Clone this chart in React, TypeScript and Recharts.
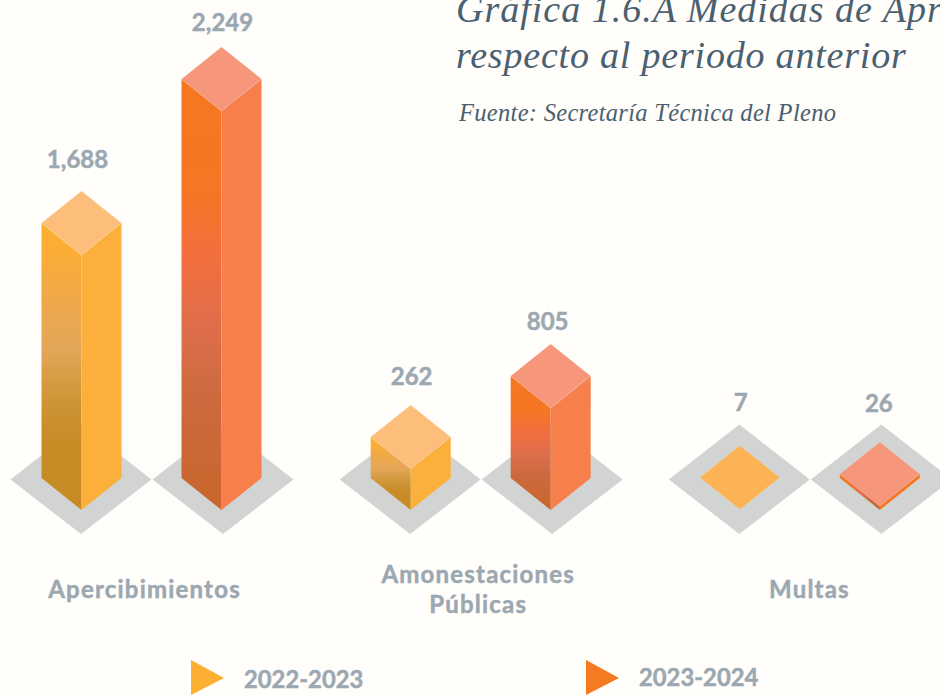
import { BarChart, Bar, XAxis, YAxis, LabelList } from "recharts";

const CATEGORIES = ["Apercibimientos", "Amonestaciones Públicas", "Multas"];
const VALUES_2022 = [1688, 262, 7];
const VALUES_2023 = [2249, 805, 26];
const SERIES_NAMES = ["2022-2023", "2023-2024"];

// The source graphic does not draw its bars in proportion to the numbers,
// so the y scale is piecewise: value -> drawn height
const SCALE_VALUES = [0, 7, 26, 262, 805, 1688, 2249, 2900];
const SCALE_HEIGHTS = [0, 0.5, 4, 41, 102, 255, 399, 478];

const LABEL_COLOR = "#9BA8B1";
const LABEL_FONT = "Lato, sans-serif";
const BACKGROUND = "#FFFEFA";

const YELLOW = {
  id: "yellowFace",
  top: "#FDBE7B",
  right: "#FBB03B",
  flat: "#FCB356",
  shadowDx: -0.5,
  stops: [
    [0, "#FDB02F"],
    [0.1, "#FBAD36"],
    [0.27, "#EFA84B"],
    [0.44, "#E3A658"],
    [0.62, "#CF9535"],
    [0.76, "#C88C27"],
    [1, "#C78B26"],
  ],
};

const ORANGE = {
  id: "orangeFace",
  top: "#F6967B",
  right: "#F67F4B",
  flat: "#F6967B",
  shadowDx: 1.5,
  stops: [
    [0, "#F57820"],
    [0.26, "#F57624"],
    [0.42, "#F26E3F"],
    [0.58, "#DE6E4B"],
    [0.74, "#CC6A3E"],
    [1, "#C9652B"],
  ],
};

const HALF_W = 40;
const HALF_H = 32;

function piecewiseHeight(v: number) {
  for (let i = 1; i < SCALE_VALUES.length; i++) {
    if (v <= SCALE_VALUES[i]) {
      const t = (v - SCALE_VALUES[i - 1]) / (SCALE_VALUES[i] - SCALE_VALUES[i - 1]);
      return SCALE_HEIGHTS[i - 1] + t * (SCALE_HEIGHTS[i] - SCALE_HEIGHTS[i - 1]);
    }
  }
  return SCALE_HEIGHTS[SCALE_HEIGHTS.length - 1];
}

function makeScale(dom: number[] = [0, 2900], rng: number[] = [478, 0]) {
  const scale: any = (v: number) => {
    const frac = piecewiseHeight(v) / 478;
    return rng[0] + frac * (rng[1] - rng[0]);
  };
  scale.domain = (d?: number[]) => {
    if (!d) return dom;
    dom = d;
    return scale;
  };
  scale.range = (r?: number[]) => {
    if (!r) return rng;
    rng = r;
    return scale;
  };
  scale.copy = () => makeScale(dom, rng);
  scale.ticks = () => SCALE_VALUES;
  scale.tickFormat = () => (v: number) => String(v);
  scale.bandwidth = () => 0;
  return scale;
}

const yScale = makeScale();

const chartData = CATEGORIES.map((category, i) => ({
  category,
  v2022: VALUES_2022[i],
  v2023: VALUES_2023[i],
}));

function pts(list: number[][]) {
  return list.map((p) => p.join(",")).join(" ");
}

function IsoBar(props: any, palette: typeof YELLOW) {
  const { x, y, width, height } = props;
  const cx = x + width / 2;
  const sx = cx + palette.shadowDx;
  const topY = y;
  const baseY = y + height;
  const edge = { stroke: "#FFFFFF", strokeOpacity: 0.25, strokeWidth: 0.6 };
  return (
    <g>
      <polygon
        points={pts([
          [sx, baseY - 53.5],
          [sx + 70.5, baseY + 1.5],
          [sx, baseY + 56],
          [sx - 70.5, baseY + 1.5],
        ])}
        fill="#D2D4D3"
      />
      {height > 1 && (
        <>
          <polygon
            points={pts([
              [cx - HALF_W, topY],
              [cx, topY + HALF_H],
              [cx, baseY + HALF_H],
              [cx - HALF_W, baseY],
            ])}
            fill={`url(#${palette.id})`}
          />
          <polygon
            points={pts([
              [cx, topY + HALF_H],
              [cx + HALF_W, topY],
              [cx + HALF_W, baseY],
              [cx, baseY + HALF_H],
            ])}
            fill={height < 10 ? palette.stops[0][1] : palette.right}
          />
        </>
      )}
      <polygon
        points={pts([
          [cx, topY - HALF_H],
          [cx + HALF_W, topY],
          [cx, topY + HALF_H],
          [cx - HALF_W, topY],
        ])}
        fill={height > 1 ? palette.top : palette.flat}
        {...edge}
      />
    </g>
  );
}

// how far each value label sits above / beside the top of its bar
const LABEL_LIFT = [
  [65, 62, 76],
  [58, 56, 72],
];
const LABEL_DX = [
  [-4, 1, 1],
  [1, -3, -1],
];

function valueLabel(seriesIdx: number) {
  return (props: any) => {
    const { x, y, width, value, index } = props;
    return (
      <text
        x={x + width / 2 + LABEL_DX[seriesIdx][index]}
        y={y - LABEL_LIFT[seriesIdx][index]}
        textAnchor="middle"
        dominantBaseline="central"
        fontFamily={LABEL_FONT}
        fontWeight={700}
        fontSize={24}
        fill={LABEL_COLOR}
        stroke={LABEL_COLOR}
        strokeWidth={0.5}
      >
        {Number(value).toLocaleString("en-US")}
      </text>
    );
  };
}

const TICK_DX = [-6.5, -2, 0];

function CategoryTick(props: any) {
  const { x, payload, index } = props;
  const lines = String(payload.value).split(" ");
  const startY = lines.length > 1 ? 573 : 588;
  return (
    <text
      textAnchor="middle"
      fontFamily={LABEL_FONT}
      fontWeight={700}
      fontSize={24}
      letterSpacing={1.2}
      fill={LABEL_COLOR}
      stroke={LABEL_COLOR}
      strokeWidth={0.5}
    >
      {lines.map((line, i) => (
        <tspan key={line} x={x + TICK_DX[index]} y={startY + i * 30} dominantBaseline="central">
          {line}
        </tspan>
      ))}
    </text>
  );
}

function LegendItem({ name, color, left, textLeft, textY }: any) {
  return (
    <>
      <svg
        width={36}
        height={36}
        style={{ position: "absolute", left, top: 659 }}
      >
        <polygon points="1,1 34,19 1,36" fill={color} />
      </svg>
      <div
        style={{
          position: "absolute",
          left: textLeft,
          top: textY,
          fontFamily: LABEL_FONT,
          fontWeight: 700,
          fontSize: 23.8,
          lineHeight: "30px",
          WebkitTextStroke: `0.5px ${LABEL_COLOR}`,
          color: LABEL_COLOR,
        }}
      >
        {name}
      </div>
    </>
  );
}

const serif = "'Liberation Serif', serif";

export default function App() {
  return (
    <div
      style={{
        position: "absolute",
        left: 0,
        top: 0,
        width: 940,
        height: 695,
        overflow: "hidden",
        background: BACKGROUND,
      }}
    >
      <div style={{ position: "absolute", left: -14, top: 0 }}>
        <BarChart
          width={988}
          height={695}
          data={chartData}
          barSize={80}
          barGap={60}
          margin={{ top: 0, right: 0, bottom: 0, left: 0.5 }}
        >
          <defs>
            {[YELLOW, ORANGE].map((p) => (
              <linearGradient key={p.id} id={p.id} x1="0" y1="0" x2="0" y2="1">
                {p.stops.map(([o, c]) => (
                  <stop key={o} offset={o as number} stopColor={c as string} />
                ))}
              </linearGradient>
            ))}
          </defs>
          <XAxis
            dataKey="category"
            height={217}
            axisLine={false}
            tickLine={false}
            interval={0}
            tick={<CategoryTick />}
          />
          <YAxis hide type="number" domain={[0, 2900]} scale={yScale} />
          <Bar
            dataKey="v2022"
            name={SERIES_NAMES[0]}
            isAnimationActive={false}
            shape={(p: any) => IsoBar(p, YELLOW)}
          >
            <LabelList dataKey="v2022" content={valueLabel(0)} />
          </Bar>
          <Bar
            dataKey="v2023"
            name={SERIES_NAMES[1]}
            isAnimationActive={false}
            shape={(p: any) => IsoBar(p, ORANGE)}
          >
            <LabelList dataKey="v2023" content={valueLabel(1)} />
          </Bar>
        </BarChart>
      </div>

      <div
        style={{
          position: "absolute",
          left: 456,
          top: -14,
          fontFamily: serif,
          fontStyle: "italic",
          fontSize: 38,
          lineHeight: "46px",
          color: "#4A6070",
          whiteSpace: "nowrap",
        }}
      >
        <span style={{ letterSpacing: 1 }}>Gráfica 1.6.A Medidas de Apremio con</span>
        <br />
        <span style={{ letterSpacing: 0.8 }}>respecto al periodo anterior</span>
      </div>
      <div
        style={{
          position: "absolute",
          left: 459,
          top: 98,
          fontFamily: serif,
          fontStyle: "italic",
          fontSize: 24.5,
          lineHeight: "30px",
          letterSpacing: 0.3,
          color: "#4A6070",
          whiteSpace: "nowrap",
        }}
      >
        Fuente: Secretaría Técnica del Pleno
      </div>

      <LegendItem name={SERIES_NAMES[0]} color="#FBB033" left={190} textLeft={244} textY={664} />
      <LegendItem name={SERIES_NAMES[1]} color="#F57A22" left={585} textLeft={639} textY={662} />
    </div>
  );
}
